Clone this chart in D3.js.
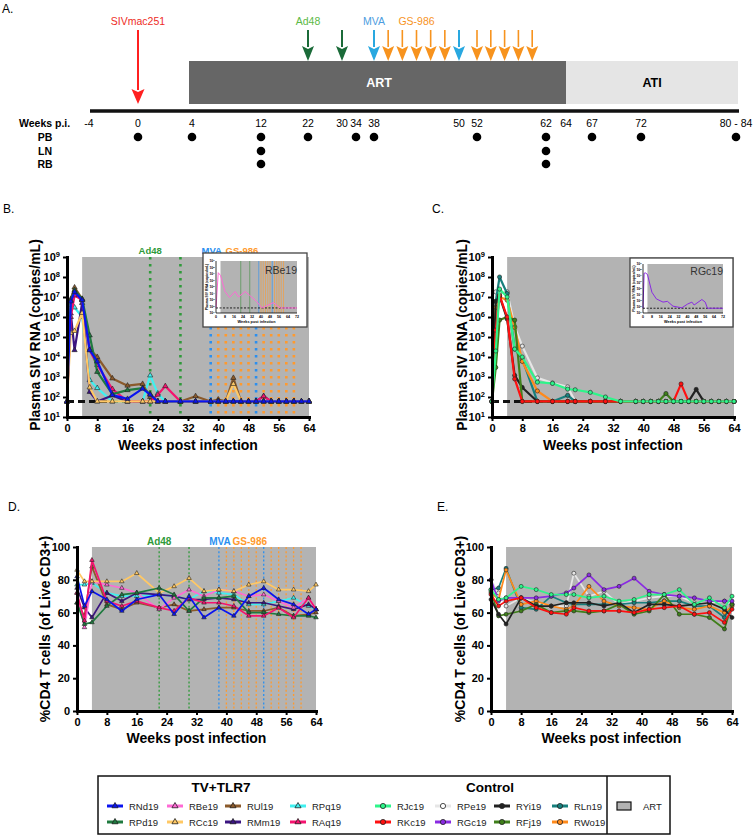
<!DOCTYPE html>
<html><head><meta charset="utf-8">
<script src="https://cdn.jsdelivr.net/npm/d3@7"></script>
<style>body{margin:0;background:#fff;} svg{display:block;}</style>
</head><body><svg id="c" width="753" height="839"></svg>
<script>
// ---------------- DATA ----------------
// Panel A timeline
const tlWeeks  = [-4,0,4,12,22,30,34,38,50,52,62,64,67,72,82];
const tlLabels = ["-4","0","4","12","22","30","34","38","50","52","62","64","67","72","80 - 84"];
const pbWeeks = [0,4,12,22,34,38,52,62,67,72,82];
const lnWeeks = [12,62];
const rbWeeks = [12,62];
const sivWeeks = [0];
const ad48Weeks = [22,30];
const mvaWeeks = [38,50];
const gsWeeks = [40,42,44,46,48,52,54,56,58,60];

// Panel B: plasma SIV RNA (copies/mL), TV+TLR7 group
const weeksB = [0,1,2,4,6,8,12,16,20,22,24,26,30,34,38,40,42,44,46,48,50,52,54,56,58,60,62,64];
const B_RNd19 = [60,6e6,1.8e7,7e6,2.2e4,6e3,125,80,260,130,60,60,60,60,60,60,60,60,60,60,60,60,60,60,60,60,60,60];
const B_RPd19 = [60,7e6,2.2e7,8e6,1.2e5,1.8e3,140,220,280,140,60,60,60,60,60,60,60,60,60,60,60,60,60,60,60,60,60,60];
const B_RUl19 = [60,8e6,3e7,8e6,2.5e4,1e4,850,370,450,100,60,60,60,110,60,75,60,900,60,60,60,60,60,60,60,60,60,60];
const B_RPq19 = [60,4e6,3e6,1e6,700,280,60,60,60,1200,150,60,60,60,60,60,60,60,60,60,60,60,60,60,60,60,60,60];
const B_RCc19 = [60,1.6e5,2e5,1.6e6,300,60,60,60,60,60,60,60,60,60,60,60,60,450,60,60,60,60,60,60,60,60,60,60];
const B_RMm19 = [60,1.5e6,2.2e4,5e6,180,60,120,60,60,60,60,60,60,60,60,60,60,60,60,60,60,110,60,60,60,60,60,60];
const B_RAq19 = [60,1e6,1.2e7,7e6,2.2e4,4e3,250,60,60,60,130,350,60,60,60,60,60,60,60,60,60,110,60,60,60,60,60,60];

// Panel C: plasma SIV RNA, Control group
const weeksC = [0,1,2,4,6,8,12,16,20,22,26,30,34,38,40,42,44,46,48,50,52,54,56,58,60,62,64];
const C_RJc19 = [60,2e4,2.5e7,1e7,2.5e4,1e4,550,480,250,230,170,100,60,60,60,60,60,60,60,60,60,60,60,60,60,60,60];
const C_RPe19 = [60,1.8e7,1.5e7,1.8e7,3.3e5,3.5e4,900,500,320,60,60,60,60,60,60,60,60,60,60,60,60,60,60,60,60,60,60];
const C_RYi19 = [60,6e6,1.1e7,8e5,1.2e3,300,60,60,60,60,60,60,60,60,60,60,60,60,60,60,60,240,60,60,60,60,60];
const C_RLn19 = [60,6e6,1e8,1.5e7,2.5e4,8e3,60,60,120,60,60,60,60,60,60,60,60,60,60,60,60,60,60,60,60,60,60];
const C_RKc19 = [60,2.2e5,1.2e7,1e6,800,60,60,60,60,60,60,60,60,60,60,60,60,60,60,450,60,60,60,60,60,60,60];
const C_RFj19 = [60,3e3,7e5,1e6,7e5,60,60,60,60,60,60,60,60,60,60,60,60,150,60,60,60,60,60,60,60,60,60];
const C_RWo19 = [60,3e6,1e7,7e6,3e5,6e3,200,60,60,60,60,60,60,60,60,60,60,60,60,60,60,60,60,60,60,60,60];

// Insets
const inB_weeks = [0,2,4,8,12,17,20,26,30,36,41,51,54,57,64,72];
const inB_RBe19 = [60,1.6e7,6e6,2e4,2.5e3,2e4,3e3,2e4,5e3,600,60,400,150,60,60,60];
const inC_weeks = [0,1,2,4,8,12,18,22,27,35,40,44,46,53,56,58,64,72];
const inC_RGc19 = [60,3e7,3.6e7,2e7,2.5e4,2e3,600,800,130,70,280,600,200,1600,600,60,60,60];

// Panel D: %CD4 T cells, TV+TLR7
const weeksD = [0,2,4,8,12,16,22,26,30,34,38,42,46,50,54,58,62,64];
const D_RNd19 = [82,64,73,68,61,68,71,59,70,57,63,58,70,75,68,65,59,62];
const D_RBe19 = [72,51,79,77,75,72,62,69,74,70,74,73,70,71,67,63,69,62];
const D_RUl19 = [66,58,88,65,62,66,63,65,61,62,63,63,61,61,63,58,59,60];
const D_RPq19 = [77,77,78,72,70,70,71,70,68,73,72,71,65,65,67,69,64,62];
const D_RPd19 = [66,53,54,64,71,72,75,71,61,69,69,70,60,60,59,58,58,57];
const D_RCc19 = [86,79,79,79,79,84,72,76,81,73,74,73,77,79,74,74,73,77];
const D_RMm19 = [75,63,57,72,67,72,71,70,68,68,69,68,66,66,64,62,65,62];
const D_RAq19 = [72,55,92,67,64,67,63,61,69,66,66,64,58,58,63,57,69,62];

// Panel E: %CD4 T cells, Control
const weeksE = [0,2,4,8,12,16,20,22,26,30,34,38,42,46,50,54,58,62,64];
const E_RGc19 = [80,67,69,69,69,70,72,75,83,74,76,81,73,71,70,69,67,67,67];
const E_RPe19 = [80,72,64,69,66,64,64,84,70,73,65,67,69,70,70,66,66,67,65];
const E_RLn19 = [74,75,87,63,62,70,66,65,65,65,65,66,66,67,67,64,64,57,65];
const E_RWo19 = [72,68,86,65,67,64,62,64,76,67,64,63,62,67,63,62,64,60,64];
const E_RJc19 = [74,68,69,76,74,71,71,71,69,70,67,68,71,71,74,65,69,63,70];
const E_RYi19 = [68,59,53,69,64,64,66,66,66,64,66,60,65,65,64,65,66,62,57];
const E_RKc19 = [71,64,67,69,63,60,59,63,61,61,61,60,62,63,64,59,60,54,62];
const E_RFj19 = [73,58,59,61,65,60,61,61,60,61,65,59,61,71,59,59,57,50,65];

const tvNames  = ["RNd19","RBe19","RUl19","RPq19","RPd19","RCc19","RMm19","RAq19"];
const ctlNames = ["RJc19","RPe19","RYi19","RLn19","RKc19","RGc19","RFj19","RWo19"];

// ---------------- STYLE ----------------
const FONT = '"Liberation Sans", Arial, Helvetica, sans-serif';
const GRAY = "#b3b3b3";
const colors = {
  RNd19:"#0a14f0", RBe19:"#ff6ad5", RUl19:"#8b5a2b", RPq19:"#40f0f0",
  RPd19:"#1f7a3f", RCc19:"#ffc864", RMm19:"#3b1581", RAq19:"#f5136f",
  RJc19:"#2ef58a", RPe19:"#e6e6e6", RYi19:"#222222", RLn19:"#17807d",
  RKc19:"#ff1010", RGc19:"#8a2be2", RFj19:"#3f7f1a", RWo19:"#ff8a1c"
};
const vaccCol = {ad:"#2f9a3a", mva:"#2a8ff0", gs:"#ff9a2e"};

const svg = d3.select("#c").style("font-family", FONT);

function txt(g, x, y, s, o) {
  o = o || {};
  return g.append("text").attr("x", x).attr("y", y).text(s)
    .attr("font-size", o.size || 11).attr("font-weight", o.bold ? "bold" : "normal")
    .attr("fill", o.fill || "#000").attr("text-anchor", o.anchor || "start");
}

// ---------------- PANEL A ----------------
const gA = svg.append("g");
const tlX = d3.scaleLinear().domain(tlWeeks)
  .range([89,138,192,261,308,342,356,374,459,477,546,566,592,641,736]);
txt(gA, 2, 13, "A.", {size: 12});
gA.append("rect").attr("x", tlX(4) - 3).attr("y", 61).attr("width", tlX(64) - tlX(4) + 3).attr("height", 43).attr("fill", "#666");
gA.append("rect").attr("x", tlX(64)).attr("y", 61).attr("width", tlX(82) + 2 - tlX(64)).attr("height", 43).attr("fill", "#e5e5e5");
txt(gA, (tlX(4) + tlX(64)) / 2, 87, "ART", {size: 12.5, bold: true, fill: "#fff", anchor: "middle"});
txt(gA, (tlX(64) + tlX(82)) / 2 + 1, 87, "ATI", {size: 12.5, bold: true, anchor: "middle"});
gA.append("line").attr("x1", tlX(-4) + 1).attr("x2", tlX(82) + 3).attr("y1", 111).attr("y2", 111).attr("stroke", "#111").attr("stroke-width", 3.5);

function arrow(xp, y0, y1, color, hl, hw, sw) {
  gA.append("line").attr("x1", xp).attr("x2", xp).attr("y1", y0).attr("y2", y1 - hl + 1).attr("stroke", color).attr("stroke-width", sw);
  gA.append("path").attr("d", `M${xp - hw / 2},${y1 - hl}L${xp},${y1 - hl + 3}L${xp + hw / 2},${y1 - hl}L${xp},${y1}Z`).attr("fill", color);
}
sivWeeks.forEach(w => arrow(tlX(w), 30, 104, "#ff2020", 15, 13, 2));
ad48Weeks.forEach(w => arrow(tlX(w), 30, 61, "#1b6b39", 15, 12, 2));
mvaWeeks.forEach(w => arrow(tlX(w), 30, 61, "#29a8e0", 15, 12, 2));
gsWeeks.forEach(w => arrow(tlX(w), 30, 61, "#f7931e", 15, 12, 1.6));
txt(gA, tlX(0), 25, "SIVmac251", {size: 10.5, fill: "#ee2b24", anchor: "middle"});
txt(gA, tlX(22), 25, "Ad48", {size: 10.5, fill: "#5cb946", anchor: "middle"});
txt(gA, tlX(38), 25, "MVA", {size: 10.5, fill: "#4d9de0", anchor: "middle"});
txt(gA, tlX(44), 25, "GS-986", {size: 10.5, fill: "#f7931e", anchor: "middle"});

txt(gA, 19, 127, "Weeks p.i.", {size: 10.5, bold: true});
tlWeeks.forEach((w, i) => txt(gA, tlX(w), 127, tlLabels[i], {size: 10.5, anchor: "middle"}));
const rows = [["PB", pbWeeks, 137], ["LN", lnWeeks, 151], ["RB", rbWeeks, 164]];
rows.forEach(([lab, ws, yy]) => {
  txt(gA, 45, yy + 4, lab, {size: 10.5, bold: true, anchor: "middle"});
  ws.forEach(w => gA.append("circle").attr("cx", tlX(w)).attr("cy", yy).attr("r", 4.3).attr("fill", "#000"));
});

// ---------------- helpers for panels ----------------
function supLabel(sel) {
  sel.each(function(d) {
    const t = d3.select(this);
    const e = Math.round(Math.log10(d));
    t.text("");
    t.append("tspan").text("10");
    t.append("tspan").attr("dy", "-0.5em").attr("font-size", "7.5px").text(e);
  });
}

function drawSeries(g, x, y, weeks, vals, color, marker, lw, msize) {
  const pts = weeks.map((w, i) => ({w: w, v: vals[i]})).filter(d => d.v != null);
  g.append("path").datum(pts).attr("fill", "none").attr("stroke", color).attr("stroke-width", lw)
    .attr("stroke-linejoin", "round")
    .attr("d", d3.line().x(d => x(d.w)).y(d => y(d.v)));
  if (marker === "tri") {
    g.selectAll(null).data(pts).enter().append("path")
      .attr("transform", d => `translate(${x(d.w)},${y(d.v)})`)
      .attr("d", d3.symbol(d3.symbolTriangle).size(msize))
      .attr("fill", color).attr("stroke", "#222").attr("stroke-width", 0.6);
  } else {
    g.selectAll(null).data(pts).enter().append("circle")
      .attr("cx", d => x(d.w)).attr("cy", d => y(d.v)).attr("r", msize)
      .attr("fill", color).attr("stroke", "#222").attr("stroke-width", 0.6);
  }
}

function drawVacc(g, x, yTop, yBot, lw, dash, labY, fs) {
  const all = [[ad48Weeks, vaccCol.ad], [mvaWeeks, vaccCol.mva], [gsWeeks, vaccCol.gs]];
  all.forEach(([ws, c]) => ws.forEach(w => {
    g.append("line").attr("x1", x(w)).attr("x2", x(w)).attr("y1", yTop).attr("y2", yBot)
      .attr("stroke", c).attr("stroke-width", lw).attr("stroke-dasharray", dash);
  }));
  txt(g, x(22), labY, "Ad48", {size: fs, bold: true, fill: vaccCol.ad, anchor: "middle"});
  txt(g, x(38) + 1, labY, "MVA", {size: fs, bold: true, fill: vaccCol.mva, anchor: "middle"});
  txt(g, x(46) + 1, labY, "GS-986", {size: fs, bold: true, fill: vaccCol.gs, anchor: "middle"});
}

function styleAxis(ax, size) {
  ax.attr("font-family", FONT).attr("font-size", size || 11).attr("font-weight", "bold");
  ax.select(".domain").attr("stroke", "#000").attr("stroke-width", 3).attr("stroke-linecap", "square");
  ax.selectAll(".tick line").attr("stroke", "#000").attr("stroke-width", 2);
  ax.selectAll(".tick text").attr("fill", "#000");
}

function drawInset(p) {
  const g = svg.append("g");
  g.append("rect").attr("x", p.bx).attr("y", p.by).attr("width", p.bw).attr("height", p.bh)
    .attr("fill", "#fff").attr("stroke", "#444").attr("stroke-width", 1.3);
  const x = d3.scaleLinear().domain([0, 72]).range([p.x0, p.x1]);
  const y = d3.scaleLog().domain([10, 1e9]).range([p.yBot, p.yTop]);
  g.append("rect").attr("x", x(4)).attr("y", p.yTop).attr("width", x(72) - x(4)).attr("height", p.yBot - p.yTop).attr("fill", GRAY);
  if (p.vacc) {
    const all = [[ad48Weeks, "#3e8f3e"], [mvaWeeks, "#2a8ff0"], [gsWeeks, "#ff9a2e"]];
    all.forEach(([ws, c]) => ws.forEach(w => g.append("line").attr("x1", x(w)).attr("x2", x(w))
      .attr("y1", p.yTop).attr("y2", p.yBot).attr("stroke", c).attr("stroke-width", 0.6)));
  }
  g.append("line").attr("x1", x(0)).attr("x2", x(72)).attr("y1", y(60)).attr("y2", y(60))
    .attr("stroke", "#111").attr("stroke-width", 0.9).attr("stroke-dasharray", "2,1.5");
  const pts = p.weeks.map((w, i) => ({w: w, v: p.vals[i]}));
  g.append("path").datum(pts).attr("fill", "none").attr("stroke", p.color).attr("stroke-width", 1)
    .attr("d", d3.line().x(d => x(d.w)).y(d => y(d.v)));
  g.append("line").attr("x1", x(0)).attr("x2", x(0)).attr("y1", p.yTop).attr("y2", p.yBot).attr("stroke", "#000").attr("stroke-width", 0.8);
  g.append("line").attr("x1", x(0)).attr("x2", x(72)).attr("y1", p.yBot).attr("y2", p.yBot).attr("stroke", "#000").attr("stroke-width", 0.8);
  d3.range(0, 73, 8).forEach(w => {
    txt(g, x(w), p.yBot + 5, String(w), {size: 3.6, anchor: "middle", bold: true});
  });
  [10,100,1e3,1e4,1e5,1e6,1e7,1e8,1e9].forEach(v => {
    const t = txt(g, x(0) - 1.5, y(v) + 1.2, "", {size: 3.4, anchor: "end", bold: true});
    t.append("tspan").text("10");
    t.append("tspan").attr("dy", "-0.5em").attr("font-size", "2.4px").text(Math.round(Math.log10(v)));
  });
  txt(g, (x(0) + x(72)) / 2, p.yBot + 9.5, "Weeks post infection", {size: 3.8, bold: true, anchor: "middle"});
  g.append("text").attr("transform", `translate(${x(0) - 8},${(p.yTop + p.yBot) / 2}) rotate(-90)`)
    .attr("text-anchor", "middle").attr("font-size", 3.4).attr("font-weight", "bold").text("Plasma SIV RNA (copies/mL)");
  txt(g, p.x1, p.labY, p.name, {size: 10.5, anchor: "end", fill: "#333"});
}

function logPanel(c) {
  const g = svg.append("g");
  const x = d3.scaleLinear().domain([0, 64]).range([c.x0, c.x1]);
  const y = d3.scaleLog().domain([10, 1e9]).range([c.yBot, c.yTop]);
  g.append("rect").attr("x", x(4)).attr("y", c.yTop).attr("width", x(64) - x(4)).attr("height", c.yBot - c.yTop).attr("fill", GRAY);
  if (c.vacc) drawVacc(g, x, c.yTop, c.yBot, 2.6, "2.6,4.4", 254, 9.5);
  g.append("line").attr("x1", x(0)).attr("x2", x(64)).attr("y1", y(60)).attr("y2", y(60))
    .attr("stroke", "#111").attr("stroke-width", 3).attr("stroke-dasharray", "7,4");
  c.inset();
  c.series.forEach(([name, vals]) => drawSeries(g, x, y, c.weeks, vals, colors[name], c.marker, 2.2, c.marker === "tri" ? 12 : 2.1));
  const ay = g.append("g").attr("transform", `translate(${c.x0},0)`)
    .call(d3.axisLeft(y).tickValues([10,100,1e3,1e4,1e5,1e6,1e7,1e8,1e9]).tickSize(4).tickSizeOuter(0).tickPadding(3));
  styleAxis(ay);
  supLabel(ay.selectAll(".tick text"));
  const ax = g.append("g").attr("transform", `translate(0,${c.yBot})`)
    .call(d3.axisBottom(x).tickValues(d3.range(0, 65, 8)).tickSize(4).tickSizeOuter(0).tickPadding(3));
  styleAxis(ax);
  g.append("text").attr("transform", `translate(${c.ylabX},${(c.yTop + c.yBot) / 2 - 2}) rotate(-90)`)
    .attr("text-anchor", "middle").attr("dy", "0.35em").attr("font-size", 14).attr("font-weight", "bold").text("Plasma SIV RNA (copies/mL)");
  txt(g, (c.x0 + c.x1) / 2, 450, "Weeks post infection", {size: 14, bold: true, anchor: "middle"});
  txt(g, c.labX, 213, c.lab, {size: 12});
}

function linPanel(c) {
  const g = svg.append("g");
  const x = d3.scaleLinear().domain([0, 64]).range([c.x0, c.x1]);
  const y = d3.scaleLinear().domain([0, 100]).range([c.yBot, c.yTop]);
  g.append("rect").attr("x", x(4)).attr("y", c.yTop).attr("width", x(64) - x(4)).attr("height", c.yBot - c.yTop).attr("fill", GRAY);
  if (c.vacc) drawVacc(g, x, c.yTop, c.yBot, 1.3, "2,2.2", 545, 10);
  c.series.forEach(([name, vals]) => drawSeries(g, x, y, c.weeks, vals, colors[name], c.marker, 1.7, c.marker === "tri" ? 9 : 2));
  const ay = g.append("g").attr("transform", `translate(${c.x0},0)`)
    .call(d3.axisLeft(y).tickValues([0,20,40,60,80,100]).tickSize(4).tickSizeOuter(0).tickPadding(3));
  styleAxis(ay);
  const ax = g.append("g").attr("transform", `translate(0,${c.yBot})`)
    .call(d3.axisBottom(x).tickValues(d3.range(0, 65, 8)).tickSize(4).tickSizeOuter(0).tickPadding(3));
  styleAxis(ax);
  g.append("text").attr("transform", `translate(${c.ylabX},${(c.yTop + c.yBot) / 2}) rotate(-90)`)
    .attr("text-anchor", "middle").attr("dy", "0.35em").attr("font-size", 14).attr("font-weight", "bold").text("%CD4 T cells (of Live CD3+)");
  txt(g, (c.x0 + c.x1) / 2, 743, "Weeks post infection", {size: 14, bold: true, anchor: "middle"});
  txt(g, c.labX, 511, c.lab, {size: 12});
}

// ---------------- PANEL B ----------------
logPanel({
  lab: "B.", labX: 3, x0: 67, x1: 309, yTop: 257, yBot: 417, ylabX: 35, vacc: true, marker: "tri", weeks: weeksB,
  series: [["RPq19", B_RPq19], ["RMm19", B_RMm19], ["RUl19", B_RUl19], ["RAq19", B_RAq19], ["RPd19", B_RPd19], ["RCc19", B_RCc19], ["RNd19", B_RNd19]],
  inset: () => drawInset({bx: 203, by: 253, bw: 104, bh: 74, x0: 216, x1: 297, yTop: 261, yBot: 313, vacc: true,
    weeks: inB_weeks, vals: inB_RBe19, color: colors.RBe19, name: "RBe19", labY: 274})
});

// ---------------- PANEL C ----------------
logPanel({
  lab: "C.", labX: 432, x0: 492, x1: 734, yTop: 257, yBot: 417, ylabX: 462, vacc: false, marker: "circle", weeks: weeksC,
  series: [["RPe19", C_RPe19], ["RLn19", C_RLn19], ["RWo19", C_RWo19], ["RYi19", C_RYi19], ["RFj19", C_RFj19], ["RKc19", C_RKc19], ["RJc19", C_RJc19]],
  inset: () => drawInset({bx: 630, by: 258, bw: 103, bh: 69, x0: 643, x1: 723, yTop: 264, yBot: 313, vacc: false,
    weeks: inC_weeks, vals: inC_RGc19, color: colors.RGc19, name: "RGc19", labY: 275})
});

// ---------------- PANEL D ----------------
linPanel({
  lab: "D.", labX: 8, x0: 77, x1: 316, yTop: 547, yBot: 711, ylabX: 45, vacc: true, marker: "tri", weeks: weeksD,
  series: [["RPq19", D_RPq19], ["RMm19", D_RMm19], ["RUl19", D_RUl19], ["RBe19", D_RBe19], ["RCc19", D_RCc19], ["RPd19", D_RPd19], ["RAq19", D_RAq19], ["RNd19", D_RNd19]]
});

// ---------------- PANEL E ----------------
linPanel({
  lab: "E.", labX: 437, x0: 491, x1: 732, yTop: 547, yBot: 711, ylabX: 460, vacc: false, marker: "circle", weeks: weeksE,
  series: [["RPe19", E_RPe19], ["RLn19", E_RLn19], ["RWo19", E_RWo19], ["RFj19", E_RFj19], ["RYi19", E_RYi19], ["RGc19", E_RGc19], ["RKc19", E_RKc19], ["RJc19", E_RJc19]]
});

// ---------------- LEGEND ----------------
const gL = svg.append("g");
gL.append("rect").attr("x", 98).attr("y", 776).attr("width", 572).attr("height", 58).attr("fill", "#fff").attr("stroke", "#111").attr("stroke-width", 1.5);
gL.append("line").attr("x1", 607).attr("x2", 607).attr("y1", 776).attr("y2", 834).attr("stroke", "#111").attr("stroke-width", 1.5);
txt(gL, 221, 792, "TV+TLR7", {size: 13.5, bold: true, anchor: "middle"});
txt(gL, 490, 792, "Control", {size: 13.5, bold: true, anchor: "middle"});
function legItem(cx, cy, name, marker) {
  gL.append("line").attr("x1", cx - 8).attr("x2", cx + 8).attr("y1", cy).attr("y2", cy).attr("stroke", colors[name]).attr("stroke-width", 3);
  if (marker === "tri") {
    gL.append("path").attr("transform", `translate(${cx},${cy})`).attr("d", d3.symbol(d3.symbolTriangle).size(16))
      .attr("fill", colors[name]).attr("stroke", "#222").attr("stroke-width", 0.8);
  } else {
    gL.append("circle").attr("cx", cx).attr("cy", cy).attr("r", 2.6).attr("fill", colors[name] === "#e6e6e6" ? "#fff" : colors[name]).attr("stroke", "#222").attr("stroke-width", 0.8);
  }
  txt(gL, cx + 14, cy + 3.5, name, {size: 9.5, fill: "#222"});
}
const tvCols = [115, 175, 233, 298], ctlCols = [383, 443, 502, 560], legRows = [806, 822];
tvNames.forEach((n, i) => legItem(tvCols[i % 4], legRows[Math.floor(i / 4)], n, "tri"));
ctlNames.forEach((n, i) => legItem(ctlCols[i % 4], legRows[Math.floor(i / 4)], n, "circle"));
gL.append("rect").attr("x", 617).attr("y", 802).attr("width", 14).attr("height", 8).attr("fill", GRAY).attr("stroke", "#111").attr("stroke-width", 1.2);
txt(gL, 643, 810, "ART", {size: 9.5, fill: "#222"});
</script></body></html>
